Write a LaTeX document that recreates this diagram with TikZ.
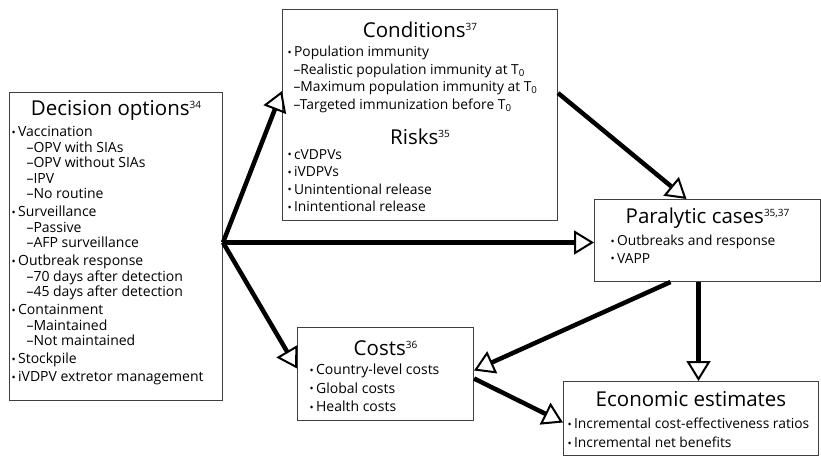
\documentclass[tikz,border=0pt]{standalone}
\usepackage{fontspec}
\setmainfont{Open Sans}
\usetikzlibrary{arrows.meta}

\newcommand{\heading}[2]{\makebox[\linewidth]{\fontsize{20.5}{20.5}\selectfont #1\raisebox{7pt}{\fontsize{10}{10}\selectfont #2}}}
\newcommand{\itm}{\raisebox{0.5pt}{\fontsize{11}{11}\selectfont\textbullet}\hspace{2.5pt}}
\newcommand{\dsh}[1]{\hspace*{#1}--}

\tikzset{
  panel/.style={draw=black!75, line width=1pt, inner sep=0pt, anchor=north west},
  flow/.style={line width=4.5pt, -{Triangle[open, length=20pt, width=24pt, line width=2pt]}}
}

\begin{document}
\begin{tikzpicture}[x=1pt, y=-1pt]
\useasboundingbox (0,0) rectangle (821,456);

% boxes
\node[panel] (decision) at (9,92) {\parbox[t][308pt][t]{213pt}{%
  \rule{0pt}{23pt}\heading{Decision options}{34}\par\vspace{5.5pt}
  \fontsize{14}{15.5}\selectfont\raggedright
  \hspace*{2pt}\itm Vaccination\\
  \dsh{17pt}OPV with SIAs\\
  \dsh{17pt}OPV without SIAs\\
  \dsh{17pt}IPV\\
  \dsh{17pt}No routine\\[2.5pt]
  \hspace*{2pt}\itm Surveillance\\
  \dsh{17pt}Passive\\
  \dsh{17pt}AFP surveillance\\[2.5pt]
  \hspace*{2pt}\itm Outbreak response\\
  \dsh{17pt}70 days after detection\\
  \dsh{17pt}45 days after detection\\[2.5pt]
  \hspace*{2pt}\itm Containment\\
  \dsh{17pt}Maintained\\
  \dsh{17pt}Not maintained\\[2.5pt]
  \hspace*{2pt}\itm Stockpile\\[2.5pt]
  \hspace*{2pt}\itm iVDPV extretor management}};

\node[panel] (conditions) at (282,9) {\parbox[t][211pt][t]{275pt}{%
  \rule{0pt}{28pt}\heading{Conditions}{37}\par\vspace{1.5pt}
  \fontsize{13.8}{17.5}\selectfont\raggedright
  \hspace*{5pt}\itm Population immunity\\
  \dsh{11pt}Realistic population immunity at T\textsubscript{0}\\
  \dsh{11pt}Maximum population immunity at T\textsubscript{0}\\
  \dsh{11pt}Targeted immunization before T\textsubscript{0}\par\vspace{15.5pt}
  \heading{Risks}{35}\par\vspace{-2.5pt}
  \hspace*{5pt}\itm cVDPVs\\
  \hspace*{5pt}\itm iVDPVs\\
  \hspace*{5pt}\itm Unintentional\ release\\
  \hspace*{5pt}\itm Inintentional release}};

\node[panel] (paralytic) at (594,199) {\parbox[t][82pt][t]{226pt}{%
  \rule{0pt}{24pt}\heading{Paralytic cases}{35,37}\par\vspace{4.5pt}
  \fontsize{13.8}{17.5}\selectfont\raggedright
  \hspace*{16pt}\itm Outbreaks and response\\
  \hspace*{16pt}\itm VAPP}};

\node[panel] (costs) at (297,327) {\parbox[t][93pt][t]{176pt}{%
  \rule{0pt}{28pt}\heading{Costs}{36}\par\vspace{0.5pt}
  \fontsize{14}{18.5}\selectfont\raggedright
  \hspace*{12pt}\itm Country-level costs\\
  \hspace*{12pt}\itm Global costs\\
  \hspace*{12pt}\itm Health costs}};

\node[panel] (economic) at (563,381) {\parbox[t][74pt][t]{255pt}{%
  \rule{0pt}{25pt}\heading{Economic estimates}{}\par\vspace{3pt}
  \fontsize{13.8}{19}\selectfont\raggedright
  \hspace*{4pt}\itm Incremental cost-effectiveness ratios\\
  \hspace*{4pt}\itm Incremental net benefits}};

% arrows
\coordinate (hub) at ([yshift=4pt]decision.east);
\draw[flow] (hub) -- ([yshift=24pt]conditions.west);
\draw[flow] (hub) -- (hub -| paralytic.west);
\draw[flow] (hub) -- ([yshift=5.5pt]costs.west);
\draw[flow] ([yshift=22pt]conditions.east) -- ([xshift=-21pt]paralytic.north);
\draw[flow] ([xshift=-37pt]paralytic.south) -- ([yshift=3.5pt]costs.east);
\draw[flow] ([xshift=-9pt]paralytic.south) -- ([xshift=-9pt]paralytic.south |- economic.north);
\draw[flow] ([yshift=-4.5pt]costs.east) -- ([yshift=-4pt]economic.west);
\end{tikzpicture}
\end{document}
